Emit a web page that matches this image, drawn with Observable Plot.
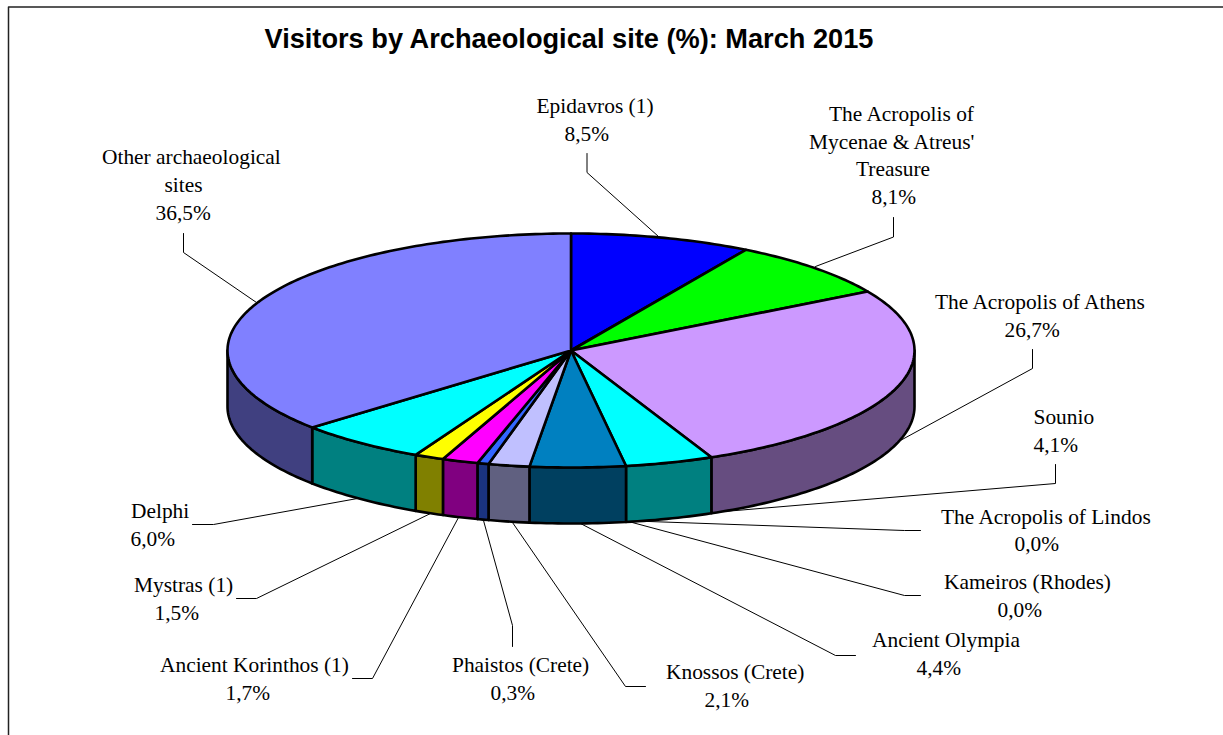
<!DOCTYPE html>
<html>
<head>
<meta charset="utf-8">
<script src="https://cdn.jsdelivr.net/npm/d3@7"></script>
<script src="https://cdn.jsdelivr.net/npm/@observablehq/plot@0.6"></script>
<style>html,body{margin:0;padding:0;background:#fff;overflow:hidden}svg{display:block}</style>
</head>
<body>
<div id="chart"></div>
<script>
// ---- data ----
const chartTitle = "Visitors by Archaeological site (%): March 2015";
const sites = ["Epidavros (1)", "The Acropolis of Mycenae & Atreus' Treasure", "The Acropolis of Athens", "Sounio", "The Acropolis of Lindos", "Kameiros (Rhodes)", "Ancient Olympia", "Knossos (Crete)", "Phaistos (Crete)", "Ancient Korinthos (1)", "Mystras (1)", "Delphi", "Other archaeological sites"];
// printed on the labels of the reference
const shares = [8.5, 8.1, 26.7, 4.1, 0.0, 0.0, 4.4, 2.1, 0.3, 1.7, 1.5, 6.0, 36.5];
// slice sizes as measured from the reference's drawn rim: its slices differ a
// little from the printed labels (Phaistos is visibly wider than 0,3%)
const drawnShares = [8.5, 8.1, 26.7, 4.14, 0.0, 0.0, 4.49, 1.93, 0.53, 1.69, 1.39, 6.11, 36.42];
const topColors = ["#0000FF", "#00FF00", "#CC99FF", "#00FFFF", "#FFFFFF", "#FFFFFF", "#0080C0", "#C0C0FF", "#3366FF", "#FF00FF", "#FFFF00", "#00FFFF", "#8080FF"];
const nameLines = [["Epidavros (1)"], ["The Acropolis of", "Mycenae & Atreus'", "Treasure"], ["The Acropolis of Athens"], ["Sounio"], ["The Acropolis of Lindos"], ["Kameiros (Rhodes)"], ["Ancient Olympia"], ["Knossos (Crete)"], ["Phaistos (Crete)"], ["Ancient Korinthos (1)"], ["Mystras (1)"], ["Delphi"], ["Other archaeological", "sites"]];

// ---- layout (pixels of the page) ----
const W = 1223, H = 735;
const pie3d = {cx: 570.5, cy: 350, rx: 343.5, ry: 117, depth: 56};
const labelLeft = [[536, 564], [828.5, 808.5, 855.5, 871], [934.5, 1004], [1033, 1033], [940.5, 1014], [943.5, 997], [871.5, 916], [665.5, 704], [451.5, 490], [159.5, 225], [133.5, 154], [130.5, 130], [101.5, 164, 155]];
const labelMid = [[106, 134], [114, 142, 169, 197], [302, 330], [417, 445], [517, 544], [582, 610], [640, 668], [672, 700], [665, 693], [665, 693], [585, 613], [511, 539], [157, 185, 213]];
const leaders = [
  [[586.5,153],[586.5,172],[658,236]],
  [[893,217],[893,236.5],[815,266]],
  [[1032,349],[1032,368],[898,441]],
  [[1055,464],[1055,483],[712,512]],
  [[620,520],[904,530],[920,530]],
  [[628,521],[904,595],[920,595]],
  [[580,523],[835,655],[855,655]],
  [[512,522],[625,686],[645,686]],
  [[483,520],[512,625],[512,646]],
  [[458,517],[372,678],[352,678]],
  [[430,513],[256,598],[236,598]],
  [[357,498],[213,524],[192,524]],
  [[183,233],[183,252],[256,302]]
];

// ---- geometry derived from the values ----
const arcs = d3.pie().sort(null).value(d => d)(drawnShares);
const px = t => pie3d.cx + pie3d.rx * Math.sin(t);
const py = t => pie3d.cy - pie3d.ry * Math.cos(t);
const sample = (a, b) => {
  const n = Math.max(2, Math.ceil((b - a) / (Math.PI / 180)));
  return d3.range(n + 1).map(i => a + (b - a) * i / n);
};
const halve = c => { const r = d3.rgb(c); return d3.rgb(r.r / 2, r.g / 2, r.b / 2).formatHex(); };

const topPts = [], sidePts = [];
arcs.forEach((arc, i) => {
  if (drawnShares[i] <= 0) return;
  const a = arc.startAngle, b = arc.endAngle;
  const ring = [[pie3d.cx, pie3d.cy], ...sample(a, b).map(t => [px(t), py(t)]), [pie3d.cx, pie3d.cy]];
  ring.forEach(([x, y]) => topPts.push({id: i, x, y, fill: topColors[i]}));
  const lo = Math.max(a, Math.PI / 2), hi = Math.min(b, 3 * Math.PI / 2);
  if (hi > lo) {
    const ts = sample(lo, hi);
    const loop = [...ts.map(t => [px(t), py(t)]), ...ts.slice().reverse().map(t => [px(t), py(t) + pie3d.depth])];
    loop.push(loop[0]);
    loop.forEach(([x, y]) => sidePts.push({id: i, x, y, fill: halve(topColors[i])}));
  }
});

const leaderPts = leaders.flatMap((pts, i) => pts.map(([x, y]) => ({id: i, x, y})));
const fmt = v => v.toFixed(1).replace(".", ",") + "%";
const labelRows = sites.flatMap((s, i) => {
  const rows = [...nameLines[i], fmt(shares[i])];
  return rows.map((text, j) => ({text, x: labelLeft[i][j], y: labelMid[i][j]}));
});
const frameEdge = [{x: 8, y: H}, {x: 8, y: 6.5}, {x: W, y: 6.5}];

const chart = Plot.plot({
  width: W, height: H,
  marginTop: 0, marginRight: 0, marginBottom: 0, marginLeft: 0,
  x: {domain: [0, W], range: [0, W], axis: null},
  y: {domain: [0, H], range: [0, H], axis: null},
  color: {type: "identity"},
  style: {background: "#fff"},
  marks: [
    Plot.line(frameEdge, {x: "x", y: "y", stroke: "#222", strokeWidth: 1.5}),
    Plot.line(leaderPts, {x: "x", y: "y", z: "id", stroke: "#000", strokeWidth: 1, curve: "linear"}),
    Plot.line(sidePts, {x: "x", y: "y", z: "id", fill: "fill", stroke: "#000", strokeWidth: 2.6, strokeLinejoin: "round", curve: "linear"}),
    Plot.line(topPts, {x: "x", y: "y", z: "id", fill: "fill", stroke: "#000", strokeWidth: 2.6, strokeLinejoin: "round", curve: "linear"}),
    Plot.text(labelRows, {x: "x", y: "y", text: "text", textAnchor: "start", lineAnchor: "middle", fontFamily: "'Liberation Serif'", fontSize: 21.4, fill: "#000"}),
    Plot.text([chartTitle], {x: [264], y: [38.5], text: d => d, textAnchor: "start", lineAnchor: "middle", fontFamily: "'Liberation Sans'", fontWeight: "bold", fontSize: 27.2, fill: "#000"})
  ]
});
document.getElementById("chart").appendChild(chart);
</script>
</body>
</html>
